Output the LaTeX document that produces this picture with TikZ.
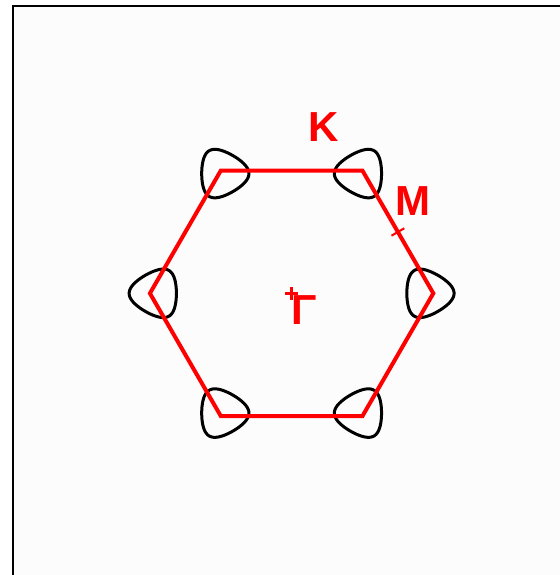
\documentclass[tikz,border=0pt]{standalone}
\usepackage{fontspec}
\setmainfont{Liberation Sans}
\usetikzlibrary{calc}

\begin{document}
\begin{tikzpicture}[
    bzline/.style={red, line width=4pt, line join=miter},
    pocket/.style={black, line width=3pt},
    symlabel/.style={text=red, inner sep=0pt, font=\fontsize{42}{42}\selectfont\bfseries},
    gmark/.style={red, line width=2.4pt},
    mtick/.style={red, line width=2pt}
]
\useasboundingbox (-10.25,-9.90) rectangle (9.43,10.31);

% Frame
\fill[black!1] (-9.78,-9.90) rectangle (9.43,10.10);
\draw[line width=2pt] (-9.78,-10.0) -- (-9.78,10.10) -- (9.6,10.10);

% Brillouin zone corners
\foreach \i in {1,...,6}
    \coordinate (K\i) at ({60*(\i-1)}:4.98);
\coordinate (G) at (0,0);
\coordinate (Mpt) at ($(K1)!0.5!(K2)$);

% Fermi pockets (tip pointing away from Gamma)
\foreach \a/\d in {0/4.78, 60/4.86, 120/4.86, 180/4.78, 240/4.86, 300/4.86}
    \draw[pocket, shift={(\a:\d)}, rotate=\a] plot[domain=0:360, samples=91, smooth cycle]
        ({0.83*(cos(\x)+0.12*cos(2*\x))}, {0.83*(sin(\x)-0.12*sin(2*\x))});

% Hexagon
\draw[bzline] (K1) -- (K2) -- (K3) -- (K4) -- (K5) -- (K6) -- cycle;

% Symmetry points
\draw[gmark] (G) +(-0.23,0) -- +(0.23,0) (G) +(0,-0.23) -- +(0,0.23);
\draw[mtick] (Mpt) +(30:0.26) -- +(210:0.26);
\node[symlabel] (Gamma) at (0.45,-0.58) {Γ};
\node[symlabel] (Klab) at (1.11,5.86) {K};
\node[symlabel] (Mlab) at (4.27,3.26) {M};

\end{tikzpicture}
\end{document}
